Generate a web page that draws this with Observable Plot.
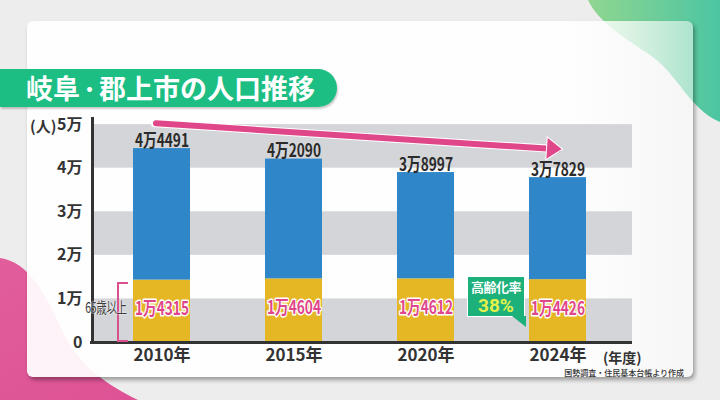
<!DOCTYPE html>
<html><head><meta charset="utf-8">
<script src="https://cdn.jsdelivr.net/npm/d3@7"></script>
<script src="https://cdn.jsdelivr.net/npm/@observablehq/plot@0.6"></script>
<style>
html,body{margin:0;padding:0;}
body{width:720px;height:400px;overflow:hidden;position:relative;background:#ededed;font-family:"Noto Sans CJK JP",sans-serif;color:#333;}
#green{position:absolute;left:0;top:0;width:720px;height:400px;background:linear-gradient(90deg,#8fd690 590px,#4cc5a3 720px);clip-path:path('M588,0 C598,22 625,38 650,55 C678,74 688,108 720,122 L720,0 Z');}
#pink{position:absolute;left:0;top:0;width:720px;height:400px;background:linear-gradient(150deg,#e56aa2,#d9428b);clip-path:path('M0,258 C28,262 45,292 62,330 C80,368 108,385 138,400 L0,400 Z');}
#card{position:absolute;left:27px;top:21px;width:666px;height:356px;border-radius:6px;background:linear-gradient(90deg,rgba(255,255,255,0.93) 0%,rgba(255,255,255,0.93) 82%,rgba(255,255,255,0.5) 100%);box-shadow:2px 3px 4px rgba(0,0,0,0.35);}
#title{position:absolute;left:0;top:69px;width:337px;height:38px;background:#1dbe83;border-radius:0 19px 19px 0;color:#fff;font-weight:bold;font-size:27px;line-height:38px;padding-left:26px;box-sizing:border-box;box-shadow:1px 2px 2px rgba(0,0,0,.2);white-space:nowrap;}
#title .dot{font-size:19px;position:relative;top:-2px;}
#chart{position:absolute;left:0;top:0;}
#unit{position:absolute;left:30px;top:116px;font-size:15px;font-weight:bold;line-height:20px;}
#nendo{position:absolute;left:603px;top:347px;font-size:14px;font-weight:bold;line-height:20px;}
#source{position:absolute;right:36px;top:367px;font-size:8px;line-height:12px;font-weight:500;}
#bracket{position:absolute;left:117px;top:282px;width:9px;height:56px;border:2px solid #d9508e;border-right:none;}
#age{position:absolute;left:72px;top:297px;width:68px;text-align:center;font-size:15px;line-height:20px;color:#3a3a3a;letter-spacing:-0.5px;transform:scaleX(0.7);text-shadow:0 0 2px #fff,0 0 2px #fff;}
#badge{position:absolute;left:467px;top:276px;width:58px;height:41px;background:#1cb07a;border:1px solid #fff;box-sizing:border-box;text-align:center;font-weight:bold;}
#badge::after{content:"";position:absolute;left:44px;top:39px;width:14px;height:11px;background:#1cb07a;clip-path:polygon(0 0,100% 0,100% 100%);}
#badge .t1{color:#fff;font-size:13px;line-height:19px;letter-spacing:-0.5px;}
#badge .t2{color:#e4f04a;font-family:Roboto,sans-serif;font-size:19px;line-height:20px;}
</style>
</head><body>
<div id="green"></div>
<div id="pink"></div>
<div id="card"></div>
<div id="chart"></div>
<div id="title">岐阜<span class="dot">・</span>郡上市の人口推移</div>
<div id="unit">(人)</div>
<div id="bracket"></div>
<div id="age">65歳以上</div>
<div id="badge"><div class="t1">高齢化率</div><div class="t2" id="rate"></div></div>
<div id="nendo">(年度)</div>
<div id="source">国勢調査・住民基本台帳より作成</div>
<script>
const years = ["2010", "2015", "2020", "2024"];
const totals = [44491, 42090, 38997, 37829];
const seniors = [14315, 14604, 14612, 14426];
const yTicks = [0, 10000, 20000, 30000, 40000, 50000];
const bandRanges = [[0, 10000], [20000, 30000], [40000, 50000]];
const trend = [{year: "2010", value: 50200}, {year: "2024", value: 44350}];

const data = years.map((y, i) => ({year: y, total: totals[i], senior: seniors[i]}));
const fmt = v => Math.floor(v / 10000) + "万" + String(v % 10000).padStart(4, "0");
const pink = "#e0478a";
const head = {draw(ctx) { ctx.moveTo(0, 0); ctx.lineTo(-16, -11.5); ctx.lineTo(-16, 11.5); ctx.closePath(); }};

document.getElementById("rate").textContent = Math.round(seniors[3] / totals[3] * 100) + "%";

const chart = Plot.plot({
  width: 720, height: 400,
  marginTop: 118, marginBottom: 58, marginLeft: 92, marginRight: 88,
  style: {background: "transparent", fontFamily: '"Noto Sans CJK JP",sans-serif', color: "#333"},
  x: {domain: years, paddingInner: 0.57, paddingOuter: 0.323, align: 0.47, axis: null},
  y: {domain: [0, 51400], axis: null},
  marks: [
    Plot.rect(bandRanges, {y1: d => d[0], y2: d => d[1], fill: "#d4d5d8"}),
    Plot.barY(data, {x: "year", y1: 0, y2: "senior", fill: "#e5b724"}),
    Plot.barY(data, {x: "year", y1: "senior", y2: "total", fill: "#2f86c8"}),
    Plot.text(data, {x: "year", y: "total", text: d => fmt(d.total), lineAnchor: "bottom", dy: -2,
      fill: "#2b2b2b", fontSize: 18, fontWeight: "bold"}),
    Plot.text(data, {x: "year", y: d => d.senior / 2, text: d => fmt(d.senior), dy: -2,
      fill: pink, stroke: "#fff", strokeWidth: 3, paintOrder: "stroke", fontSize: 18, fontWeight: "bold"}),
    Plot.axisY({ticks: yTicks, tickSize: 0, tickPadding: 10, fontSize: 16, fontWeight: "bold", label: null,
      tickFormat: d => d === 0 ? "0" : (d / 10000) + "万"}),
    Plot.axisX({tickSize: 0, tickPadding: 6, fontSize: 17, fontWeight: "bold", label: null, tickFormat: d => d + "年"}),
    Plot.frame({anchor: "left", stroke: "#333", strokeWidth: 3}),
    Plot.ruleY([0], {stroke: "#333", strokeWidth: 3, insetLeft: -2}),
    Plot.arrow([trend], {x1: d => d[0].year, y1: d => d[0].value, x2: d => d[1].year, y2: d => d[1].value,
      stroke: "#fff", strokeWidth: 8, headLength: 0, insetStart: -7, insetEnd: 10}),
    Plot.arrow([trend], {x1: d => d[0].year, y1: d => d[0].value, x2: d => d[1].year, y2: d => d[1].value,
      stroke: pink, strokeWidth: 6, headLength: 0, insetStart: -6, insetEnd: 0}),
    Plot.dot([trend[1]], {x: "year", y: "value", symbol: head, fill: pink, stroke: "#fff", strokeWidth: 1, rotate: 3.6, dx: 4.5})
  ]
});
// condense bar value labels to the narrow lettering of the original
chart.querySelectorAll("g[aria-label='text'] text").forEach(t => {
  t.setAttribute("textLength", 54);
  t.setAttribute("lengthAdjust", "spacingAndGlyphs");
});
document.getElementById("chart").appendChild(chart);
</script>
</body></html>
